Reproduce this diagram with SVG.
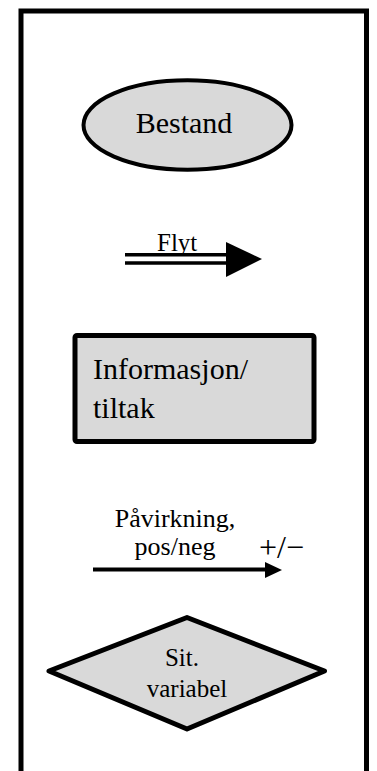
<svg xmlns="http://www.w3.org/2000/svg" width="377" height="771" viewBox="0 0 377 771">
<style>
.t{font-family:'Liberation Serif','Times New Roman','DejaVu Serif',serif;fill:#000}
.s{fill:#d9d9d9;stroke:#000}
</style>
<rect width="377" height="771" fill="#fff"/>
<rect id="frame" x="21" y="11" width="345.5" height="790" fill="none" stroke="#000" stroke-width="5"/>
<g id="bestand">
<ellipse class="s" cx="187.5" cy="125" rx="104" ry="44.7" stroke-width="4"/>
<text class="t" x="184" y="133" font-size="30" text-anchor="middle">Bestand</text>
</g>
<g id="connectors">
<g id="flyt">
<line x1="125" y1="254.7" x2="228" y2="254.7" stroke="#000" stroke-width="3.5"/>
<line x1="125" y1="263" x2="228" y2="263" stroke="#000" stroke-width="3.5"/>
<polygon points="226,242 262,259 226,277" fill="#000"/>
<text class="t" x="157" y="251" font-size="25">Flyt</text>
</g>
<g id="pavirkning">
<line x1="93" y1="569.5" x2="270" y2="569.5" stroke="#000" stroke-width="4"/>
<polygon points="265,562 282,570 265,578" fill="#000"/>
<text class="t" x="175" y="527" font-size="26" text-anchor="middle">Påvirkning,</text>
<text class="t" x="175" y="555" font-size="26" text-anchor="middle">pos/neg</text>
<text class="t" x="259" y="558" font-size="32">+/−</text>
</g>
</g>
<g id="informasjon">
<rect class="s" x="75" y="335.5" width="239" height="106" rx="2" stroke-width="5"/>
<text class="t" x="93" y="379" font-size="30">Informasjon/</text>
<text class="t" x="93" y="418" font-size="30">tiltak</text>
</g>
<g id="sitvariabel">
<polygon class="s" points="49,671 187,617.5 324.5,671 187,729" stroke-width="5" stroke-linejoin="round"/>
<text class="t" x="182" y="666" font-size="25" text-anchor="middle">Sit.</text>
<text class="t" x="187" y="697" font-size="25" text-anchor="middle">variabel</text>
</g>
</svg>
